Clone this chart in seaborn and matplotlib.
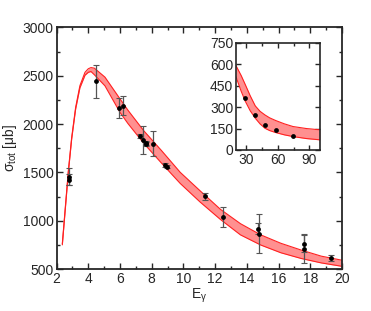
import numpy as np
import pandas as pd
import matplotlib
matplotlib.use("Agg")
import matplotlib.pyplot as plt
import seaborn as sns
from matplotlib.ticker import MultipleLocator

# --- DATA ---
# main panel: measured points
e_gamma = [2.75, 2.75, 4.47, 5.96, 6.17, 7.27, 7.43, 7.64, 7.66, 8.10,
           8.83, 8.95, 11.34, 12.48, 14.68, 14.80, 17.60, 17.60, 19.28]
sigma = [1455, 1425, 2440, 2165, 2190, 1880, 1830, 1805, 1790, 1796,
         1580, 1560, 1253, 1038, 918, 866, 763, 711, 614]
sigma_err = [85, 60, 170, 100, 100, 20, 145, 20, 20, 130,
             20, 20, 35, 100, 60, 200, 90, 150, 30]

# main panel: theory band (lower / upper edge)
band_x = [2.36, 2.53, 2.74, 2.95, 3.2, 3.47, 3.79, 4.0, 4.17, 4.38,
          5.05, 6.0, 6.5, 7.5, 8.62, 9.8, 11.06, 12.34, 13.6, 14.88,
          16.15, 17.43, 18.7, 20.0]
band_lo = [750, 1085, 1500, 1845, 2155, 2375, 2505, 2535, 2543, 2510,
           2395, 2120, 2005, 1800, 1595, 1385, 1192, 1012, 853, 748,
           668, 609, 563, 528]
band_hi = [760, 1100, 1515, 1860, 2172, 2397, 2535, 2572, 2584, 2578,
           2485, 2260, 2143, 1930, 1725, 1500, 1308, 1117, 969, 853,
           766, 696, 633, 591]

# inset: high energy points and band
ins_x = [29.0, 38.4, 47.6, 57.8, 74.3]
ins_y = [360, 248, 175, 140, 95]
ins_band_x = [20, 25, 29, 33.5, 38.4, 43, 47.6, 52, 57.8, 66, 74.3, 87, 100]
ins_band_lo = [512, 410, 339, 275, 222, 182, 152, 136, 122, 106, 94, 80, 71]
ins_band_hi = [590, 520, 455, 380, 308, 270, 245, 225, 206, 183, 164, 150, 141]

# --- STYLE ---
sns.set_style("ticks")
plt.rcParams['font.family'] = ['Liberation Sans', 'DejaVu Sans']
plt.rcParams['mathtext.fontset'] = 'custom'
plt.rcParams['mathtext.rm'] = 'Liberation Sans'
plt.rcParams['mathtext.it'] = 'Liberation Sans'

band_fill = "#ff9090"
band_edge = "#ff2020"

fig = plt.figure(figsize=(3.71, 3.11), dpi=100)
ax = fig.add_axes([0.1526, 0.135, 0.769, 0.777])

# band
ax.fill_between(band_x, band_lo, band_hi, color=band_fill, lw=0, zorder=1)
sns.lineplot(x=band_x, y=band_lo, color=band_edge, lw=0.8, ax=ax, zorder=2)
sns.lineplot(x=band_x, y=band_hi, color=band_edge, lw=0.8, ax=ax, zorder=2)

# data with error bars
ax.errorbar(e_gamma, sigma, yerr=sigma_err, fmt="none", ecolor="#555555",
            elinewidth=0.9, capsize=2.2, capthick=0.8, zorder=3)
sns.scatterplot(x=e_gamma, y=sigma, color="black", s=12, edgecolor="black",
                linewidth=0, ax=ax, zorder=4)

ax.set_xlim(2, 20)
ax.set_ylim(500, 3000)
ax.xaxis.set_major_locator(MultipleLocator(2))
ax.xaxis.set_minor_locator(MultipleLocator(1))
ax.yaxis.set_major_locator(MultipleLocator(500))
ax.yaxis.set_minor_locator(MultipleLocator(250))
ax.tick_params(which="both", direction="in", top=True, right=True,
               labelsize=10, pad=2, width=1)
ax.tick_params(which="major", length=4)
ax.tick_params(which="minor", length=2.5)
for sp in ax.spines.values():
    sp.set_linewidth(1.3)

ax.set_xlabel(r"E$_{\gamma}$", fontsize=10, labelpad=1)
ax.set_ylabel(r"σ$_{\rm tot}$ [μb]", fontsize=10, labelpad=3)

# --- INSET ---
axi = fig.add_axes([0.636, 0.5177, 0.2265, 0.345])
axi.fill_between(ins_band_x, ins_band_lo, ins_band_hi, color=band_fill,
                 lw=0, zorder=1)
sns.lineplot(x=ins_band_x, y=ins_band_lo, color=band_edge, lw=0.8, ax=axi)
sns.lineplot(x=ins_band_x, y=ins_band_hi, color=band_edge, lw=0.8, ax=axi)
sns.scatterplot(x=ins_x, y=ins_y, color="black", s=12, linewidth=0,
                ax=axi, zorder=4)

axi.set_xlim(20, 100)
axi.set_ylim(0, 750)
axi.set_xticks([30, 60, 90])
axi.xaxis.set_minor_locator(MultipleLocator(15))
axi.set_yticks([0, 150, 300, 450, 600, 750])
axi.tick_params(which="both", direction="in", top=True, right=True,
                labelsize=10, pad=2, width=1)
axi.tick_params(which="major", length=3.5)
axi.tick_params(which="minor", length=2)
for sp in axi.spines.values():
    sp.set_linewidth(1.2)

fig.savefig("out.png", dpi=100)
